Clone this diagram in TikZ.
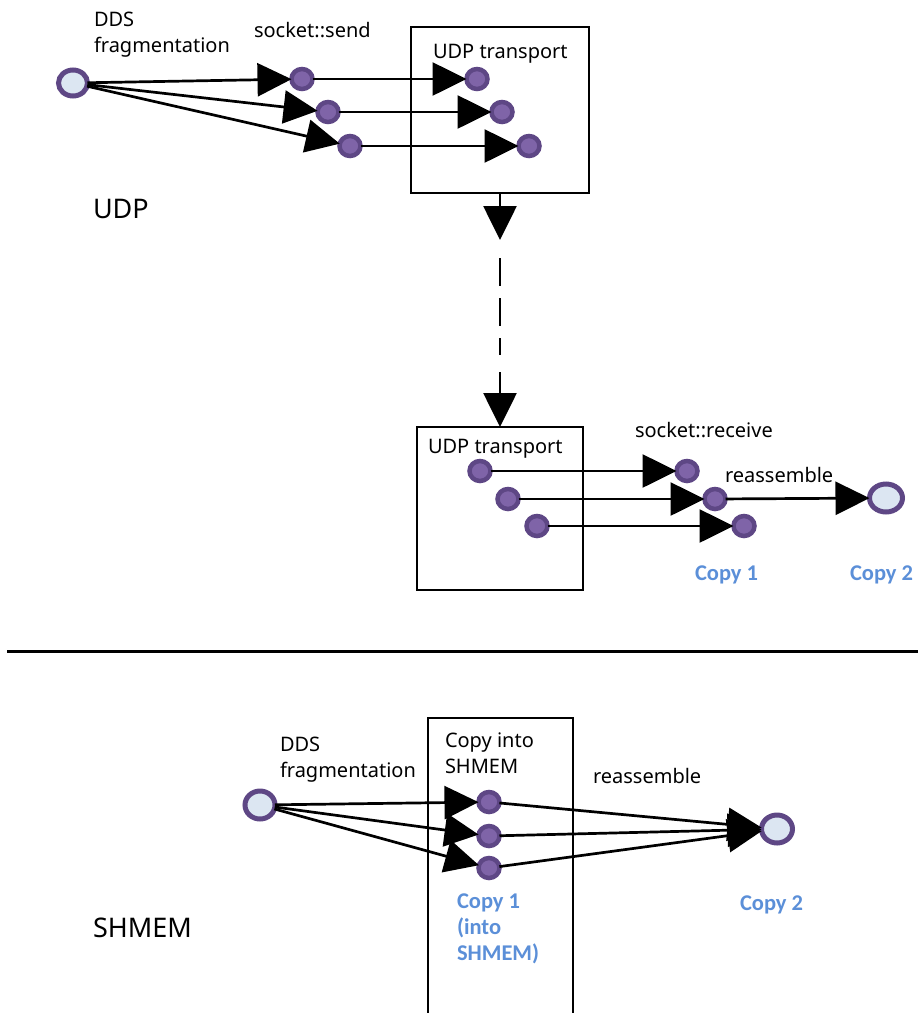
\documentclass[tikz,border=0pt]{standalone}
\usepackage{fontspec}
\setmainfont{Noto Sans}
\newfontfamily\copyfont{Carlito}
\usetikzlibrary{arrows.meta,shapes.geometric}
\definecolor{ringc}{HTML}{5E4785}
\definecolor{dotc}{HTML}{7F64A8}
\definecolor{srcc}{HTML}{DCE6F2}
\definecolor{copyc}{HTML}{5B8FD8}
\begin{document}
\begin{tikzpicture}[x=1pt,y=-1pt,
  every node/.style={inner sep=0pt,outer sep=0pt},
  src/.style={ellipse,draw=ringc,fill=srcc,line width=5pt,minimum width=29pt,minimum height=26pt},
  dot/.style={ellipse,draw=ringc,fill=dotc,line width=4.5pt,minimum width=21pt,minimum height=20pt},
  frame/.style={rectangle,draw=black,line width=2.8pt},
  flow/.style={line width=2.7pt,-{Triangle[length=34pt,width=33pt]}},
  lbl/.style={font=\fontsize{20}{26}\selectfont,align=left},
  big/.style={font=\fontsize{27}{32}\selectfont,anchor=base west},
  copy/.style={font=\copyfont\bfseries\fontsize{22.5}{26}\selectfont,text=copyc,align=left}
]
\clip (0,0) rectangle (918,1013);

% ---------- UDP path: sender side ----------
\node[frame,minimum width=178pt,minimum height=166pt] (box1) at (500,110) {};
\node[src] (s1) at (73,83) {};
\node[dot] (a1) at (302,79) {};
\node[dot] (a2) at (328,112) {};
\node[dot] (a3) at (350,146) {};
\node[dot] (b1) at (477,79) {};
\node[dot] (b2) at (502,112) {};
\node[dot] (b3) at (529,146) {};
\draw[flow] (s1) -- (a1);
\draw[flow] (s1) -- (a2);
\draw[flow] (s1) -- (a3);
\draw[flow] (a1) -- (b1);
\draw[flow] (a2) -- (b2);
\draw[flow] (a3) -- (b3);

\node[lbl,anchor=north west] (l1) at (94,12) {DDS\\fragmentation};
\node[lbl,anchor=base west] (l2) at (254,37) {socket::send};
\node[lbl,anchor=base west] (l3) at (433,58) {UDP transport};
\node[big] (l4) at (93,218) {UDP};

% ---------- network hop ----------
\coordinate (h1) at (500,240);
\coordinate (h2) at (500,258);
\coordinate (h3) at (500,355);
\coordinate (h4) at (500,372);
\node[frame,minimum width=166pt,minimum height=163pt] (box2) at (500,508.5) {};
\draw[flow] (box1.south) -- (h1);
\draw[line width=2.8pt,dash pattern=on 28pt off 12pt] (h2) -- (h3);
\draw[flow] (h4) -- (box2.north);

% ---------- UDP path: receiver side ----------
\node[dot] (c1) at (480,471) {};
\node[dot] (c2) at (508,499) {};
\node[dot] (c3) at (537,526) {};
\node[dot] (d1) at (687,471) {};
\node[dot] (d2) at (715,499) {};
\node[dot] (d3) at (744,526) {};
\node[src,minimum width=33pt,minimum height=28pt] (t1) at (886,498) {};
\draw[flow] (c1) -- (d1);
\draw[flow] (c2) -- (d2);
\draw[flow] (c3) -- (d3);
\draw[flow] (d2) -- (t1);

\node[lbl,anchor=base west] (l5) at (428,453) {UDP transport};
\node[lbl,anchor=base west] (l6) at (635,437) {socket::receive};
\node[lbl,anchor=base west] (l7) at (725,482) {reassemble};
\node[copy,anchor=base west] (l8) at (695,580) {Copy 1};
\node[copy,anchor=base west] (l9) at (850,580) {Copy 2};

% ---------- separator ----------
\coordinate (sepL) at (7,651);
\coordinate (sepR) at (918,651);
\draw[line width=3pt] (sepL) -- (sepR);

% ---------- SHMEM path ----------
\node[frame,minimum width=145pt,minimum height=320pt] (box3) at (500.5,878) {};
\node[src,minimum width=30pt,minimum height=28pt] (s2) at (260,805) {};
\node[dot] (e1) at (489,802) {};
\node[dot] (e2) at (489,836) {};
\node[dot] (e3) at (489,868) {};
\node[src,minimum width=31pt,minimum height=28pt] (t2) at (777,829) {};
\draw[flow] (s2) -- (e1);
\draw[flow] (s2) -- (e2);
\draw[flow] (s2) -- (e3);
\draw[flow] (e1) -- (t2);
\draw[flow] (e2) -- (t2);
\draw[flow] (e3) -- (t2);

\node[lbl,anchor=north west] (m1) at (280,737) {DDS\\fragmentation};
\node[lbl,anchor=north west] (m2) at (445,733) {Copy into\\SHMEM};
\node[lbl,anchor=base west] (m3) at (593,783) {reassemble};
\node[copy,anchor=north west] (m4) at (457,894) {Copy 1\\(into\\SHMEM)};
\node[copy,anchor=base west] (m5) at (740,910) {Copy 2};
\node[big] (m6) at (93,937) {SHMEM};
\end{tikzpicture}
\end{document}
